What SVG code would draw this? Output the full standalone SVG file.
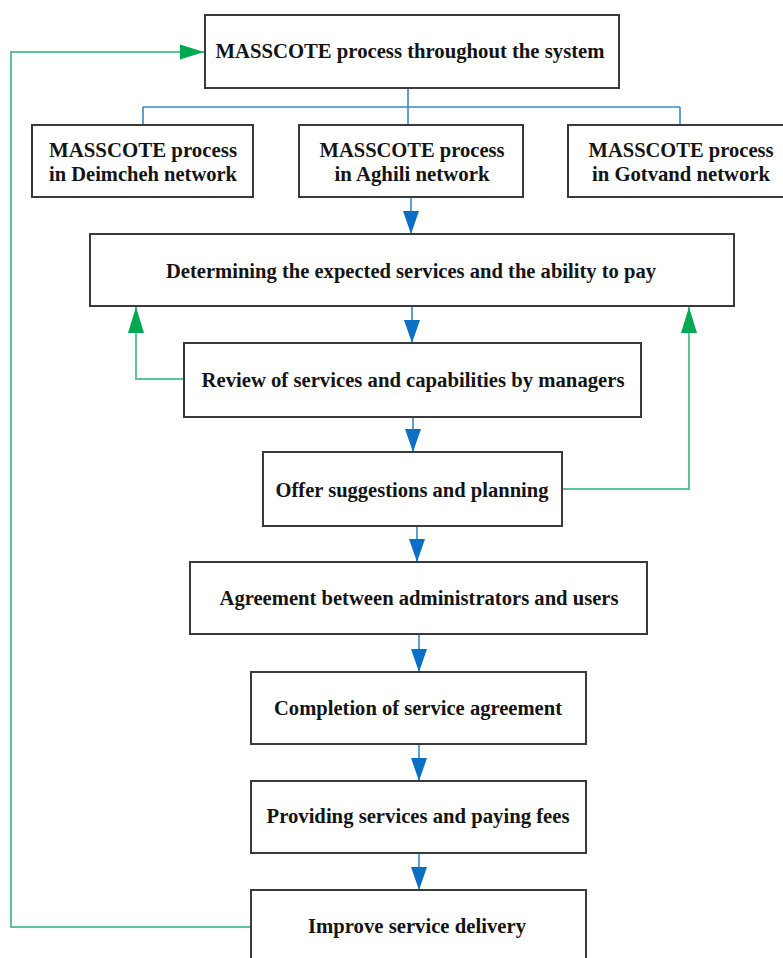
<svg xmlns="http://www.w3.org/2000/svg" width="783" height="958" viewBox="0 0 783 958">
<style>
.box{fill:#ffffff;stroke:#3a3a3a;stroke-width:2}
.t{font-family:"Liberation Serif","Times New Roman",serif;font-weight:bold;font-size:20.5px;fill:#141414;text-anchor:middle}
.ts{font-size:21px}
.blue{fill:none;stroke:#3a88c8;stroke-width:1.6}
.green{fill:none;stroke:#5cc598;stroke-width:2}
</style>
<defs>
<marker id="ab" markerUnits="userSpaceOnUse" markerWidth="24" markerHeight="18" viewBox="0 -9 24 18" refX="23" refY="0" orient="auto">
<path d="M0,-8 L23,0 L0,8 z" fill="#0b6fc6"/>
</marker>
<marker id="ag" markerUnits="userSpaceOnUse" markerWidth="27" markerHeight="18" viewBox="0 -9 27 18" refX="26" refY="0" orient="auto">
<path d="M0,-8 L26,0 L0,8 z" fill="#00a852"/>
</marker>
<marker id="ag2" markerUnits="userSpaceOnUse" markerWidth="25" markerHeight="16" viewBox="0 -8 25 16" refX="24" refY="0" orient="auto">
<path d="M0,-7.5 L24,0 L0,7.5 z" fill="#00a852"/>
</marker>
</defs>
<rect width="783" height="958" fill="#ffffff"/>
<g id="connectors">
<path class="blue" d="M408 88 V107 M143 107 H680 M143 107 V125 M680 107 V125 M408 107 V125"/>
<path class="blue" d="M411 197 V234" marker-end="url(#ab)"/>
<path class="blue" d="M412 306 V343" marker-end="url(#ab)"/>
<path class="blue" d="M413 417 V452" marker-end="url(#ab)"/>
<path class="blue" d="M417 526 V562" marker-end="url(#ab)"/>
<path class="blue" d="M419 634 V672" marker-end="url(#ab)"/>
<path class="blue" d="M419 744 V781" marker-end="url(#ab)"/>
<path class="blue" d="M419 853 V890" marker-end="url(#ab)"/>
<path class="green" d="M184 379 H136 V307" marker-end="url(#ag)"/>
<path class="green" d="M562 489 H689 V307" marker-end="url(#ag)"/>
<path class="green" d="M251 927 H11 V52 H204" marker-end="url(#ag2)"/>
</g>
<g id="n-system">
<rect class="box" x="205" y="15" width="414" height="73"/>
<text class="t" x="410" y="58" textLength="389" lengthAdjust="spacingAndGlyphs">MASSCOTE process throughout the system</text>
</g>
<g id="n-deimcheh">
<rect class="box" x="32" y="125" width="221" height="72"/>
<text class="t ts" x="143" y="157" textLength="188" lengthAdjust="spacingAndGlyphs">MASSCOTE process</text>
<text class="t ts" x="143" y="181" textLength="188" lengthAdjust="spacingAndGlyphs">in Deimcheh network</text>
</g>
<g id="n-aghili">
<rect class="box" x="299" y="125" width="224" height="72"/>
<text class="t ts" x="412" y="157" textLength="185" lengthAdjust="spacingAndGlyphs">MASSCOTE process</text>
<text class="t ts" x="412" y="181" textLength="155" lengthAdjust="spacingAndGlyphs">in Aghili network</text>
</g>
<g id="n-gotvand">
<rect class="box" x="568" y="125" width="224" height="72"/>
<text class="t ts" x="681" y="157" textLength="185" lengthAdjust="spacingAndGlyphs">MASSCOTE process</text>
<text class="t ts" x="681" y="181" textLength="178" lengthAdjust="spacingAndGlyphs">in Gotvand network</text>
</g>
<g id="n-determining">
<rect class="box" x="90" y="234" width="644" height="72"/>
<text class="t" x="411" y="278" textLength="490" lengthAdjust="spacingAndGlyphs">Determining the expected services and the ability to pay</text>
</g>
<g id="n-review">
<rect class="box" x="184" y="343" width="457" height="74"/>
<text class="t" x="413" y="387" textLength="423" lengthAdjust="spacingAndGlyphs">Review of services and capabilities by managers</text>
</g>
<g id="n-offer">
<rect class="box" x="263" y="452" width="299" height="74"/>
<text class="t" x="412" y="497" textLength="273" lengthAdjust="spacingAndGlyphs">Offer suggestions and planning</text>
</g>
<g id="n-agreement">
<rect class="box" x="190" y="562" width="457" height="72"/>
<text class="t" x="419" y="605" textLength="399" lengthAdjust="spacingAndGlyphs">Agreement between administrators and users</text>
</g>
<g id="n-completion">
<rect class="box" x="251" y="672" width="335" height="72"/>
<text class="t" x="418" y="715" textLength="288" lengthAdjust="spacingAndGlyphs">Completion of service agreement</text>
</g>
<g id="n-providing">
<rect class="box" x="251" y="781" width="335" height="72"/>
<text class="t" x="418" y="823" textLength="303" lengthAdjust="spacingAndGlyphs">Providing services and paying fees</text>
</g>
<g id="n-improve">
<rect class="box" x="251" y="890" width="335" height="72"/>
<text class="t" x="417" y="933" textLength="218" lengthAdjust="spacingAndGlyphs">Improve service delivery</text>
</g>
</svg>
